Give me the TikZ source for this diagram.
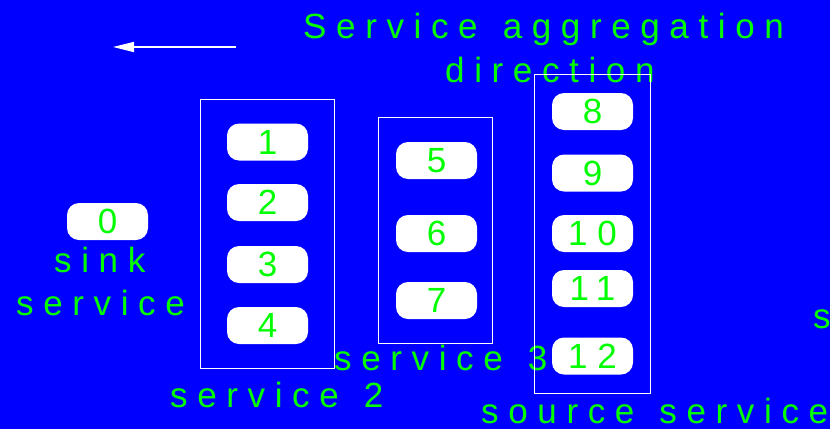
\documentclass[tikz,border=0pt]{standalone}
\usepackage{fontspec}
\setmainfont{Liberation Sans}
\newfontfamily\spaced[LetterSpace=27.5,WordSpace=1.3]{Liberation Sans}
\usetikzlibrary{arrows.meta}
\definecolor{bgblue}{RGB}{0,0,255}
\definecolor{labgreen}{RGB}{0,255,0}
\begin{document}
\begin{tikzpicture}[x=1pt,y=-1pt,
  every node/.style={font=\spaced\fontsize{35}{42}\selectfont, text=labgreen, inner sep=0pt},
  lab/.style={anchor=base west},
  slot/.style={fill=white, rounded corners=12pt, minimum width=81pt, minimum height=37pt},
  group/.style={draw=white, line width=0.8pt},
  flow/.style={draw=white, line width=1.5pt, -{Triangle[length=21pt,width=10pt]}}]
  % background and page size
  \fill[bgblue] (0,0) rectangle (830,429);
  \useasboundingbox (0,0) rectangle (830,429);

  % aggregation direction
  \coordinate (arrowstart) at (236,47);
  \coordinate (arrowend) at (113,47);
  \draw[flow] (arrowstart) -- (arrowend);
  \node[lab] (title1) at (303,38) {Service aggregation};
  \node[lab] (title2) at (445,82) {direction};

  % labels
  \node[lab] (sinklab1) at (54,272) {sink};
  \node[lab] (sinklab2) at (16,315) {service};
  \node[lab] (s2lab) at (170,407) {service 2};
  \node[lab] (s3lab) at (334,370) {service 3};
  \node[lab] (srclab) at (481,423) {source service};
  \node[lab] (edgelab) at (813,328) {s};

  % service groups
  \node[group, minimum width=134pt, minimum height=269pt] (grp2) at (267,233.5) {};
  \node[group, minimum width=114pt, minimum height=226pt] (grp3) at (435,230) {};
  \node[group, minimum width=116pt, minimum height=319pt] (grpsrc) at (592,233.5) {};

  % service instances
  \node[slot] (n0) at (107.5,221.5) {0};
  \node[slot] (n1) at (267.5,142) {1};
  \node[slot] (n2) at (267.5,202.5) {2};
  \node[slot] (n3) at (267.5,264.5) {3};
  \node[slot] (n4) at (267.5,325.5) {4};
  \node[slot] (n5) at (436.5,160.5) {5};
  \node[slot] (n6) at (436.5,233.5) {6};
  \node[slot] (n7) at (436.5,300.5) {7};
  \node[slot] (n8) at (592.5,111.5) {8};
  \node[slot] (n9) at (592.5,173) {9};
  \node[slot] (n10) at (592.5,233.5) {10};
  \node[slot] (n11) at (592.5,288.5) {11};
  \node[slot] (n12) at (592.5,356) {12};
\end{tikzpicture}
\end{document}
